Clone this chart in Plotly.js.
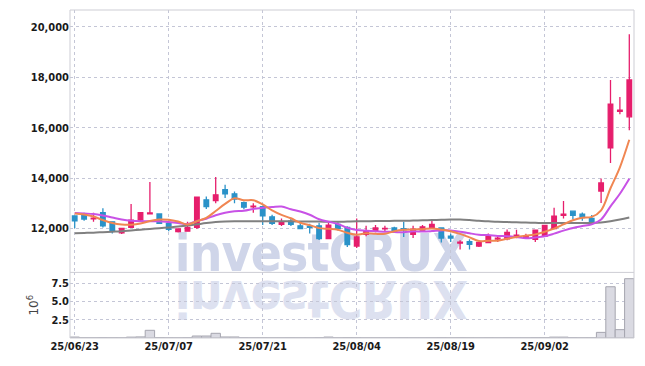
<!DOCTYPE html>
<html><head><meta charset="utf-8">
<script src="https://cdn.plot.ly/plotly-3.0.1.min.js"></script>
<style>
html,body{margin:0;padding:0;background:#fff;}
#wrap{position:relative;width:645px;height:366px;}
#wm{position:absolute;left:0;top:0;z-index:0;}
#chart{position:absolute;left:0;top:0;width:645px;height:366px;z-index:1;}
</style>
</head><body>
<div id="wrap">
<svg id="wm" width="645" height="366" xmlns="http://www.w3.org/2000/svg">
  <text x="321" y="271" text-anchor="middle" font-family="DejaVu Sans Condensed" font-weight="bold" font-size="51" letter-spacing="-0.8" fill="rgb(207,213,233)">investCRUX</text>
  <g transform="translate(0,552) scale(1,-1)">
    <text x="321" y="271" text-anchor="middle" font-family="DejaVu Sans Condensed" font-weight="bold" font-size="51" letter-spacing="-0.8" fill="rgb(221,225,240)">investCRUX</text>
  </g>
</svg>
<div id="chart"></div>
</div>
<script>
const dates = ['2025-06-23','2025-06-24','2025-06-25','2025-06-26','2025-06-27','2025-06-30',
'2025-07-01','2025-07-02','2025-07-03','2025-07-04','2025-07-07','2025-07-08','2025-07-09','2025-07-10','2025-07-11',
'2025-07-14','2025-07-15','2025-07-16','2025-07-17','2025-07-18','2025-07-21','2025-07-22','2025-07-23','2025-07-24','2025-07-25',
'2025-07-28','2025-07-29','2025-07-30','2025-07-31','2025-08-01','2025-08-04','2025-08-05','2025-08-06','2025-08-07','2025-08-08',
'2025-08-11','2025-08-12','2025-08-13','2025-08-14','2025-08-18','2025-08-19','2025-08-20','2025-08-21','2025-08-22',
'2025-08-25','2025-08-26','2025-08-27','2025-08-28','2025-08-29','2025-09-01','2025-09-02','2025-09-03','2025-09-04','2025-09-05',
'2025-09-08','2025-09-09','2025-09-10','2025-09-11','2025-09-12','2025-09-15'];

const open  = [12500,12570,12390,12630,12270,11830,12050,12340,12590,12580,
12210,11880,11900,12050,13140,13110,13540,13380,13030,12860,
12870,12470,12170,12300,12110,12100,12110,11610,12170,12050,
11310,11770,11900,11990,12030,12000,11770,11940,12030,12030,
11700,11430,11480,11310,11450,11590,11600,11650,11630,11580,
11690,12000,12530,12690,12570,12410,13490,15200,16650,16430];
const high  = [12520,12630,12630,12810,12290,12030,12980,12650,13850,12600,
12230,12010,12270,13260,13270,14050,13740,13470,13080,13010,
12920,12550,12400,12400,12230,12190,12230,12250,12250,12090,
12400,12110,12140,12110,12070,12270,12110,12140,12300,12050,
11800,11540,11580,11460,11810,11740,11970,11960,11800,11960,
12150,12830,13100,12700,12640,12540,13990,17890,17220,19700];
const low   = [12020,12310,12270,12050,11810,11790,12030,12270,12570,12180,
11900,11850,11880,11990,12780,13010,13210,13010,12770,12630,
12140,12140,12100,12100,11990,11810,11550,11590,11930,11270,
11230,11700,11860,11870,11830,11670,11630,11920,12000,11450,
11470,11170,11170,11270,11430,11470,11540,11620,11600,11470,
11670,11990,12400,12360,12310,12180,13020,14600,16530,15900];
const close = [12310,12380,12420,12110,11910,12010,12340,12630,12620,12210,
11970,11990,12050,13250,12870,13340,13380,13170,12850,12890,
12510,12210,12270,12170,12000,12050,11610,12140,12000,11370,
11670,11900,12030,12010,11870,11950,11980,12070,12170,11630,
11630,11460,11380,11450,11700,11620,11850,11740,11710,11940,
12130,12490,12570,12530,12440,12290,13810,16930,16690,17890];

const ma5  = [12600,12560,12480,12340,12226,12166,12158,12200,12302,12362,
12354,12284,12168,12294,12426,12700,12978,13202,13122,13126,
12960,12726,12546,12410,12232,12140,12020,11994,11960,11834,
11758,11816,11794,11796,11896,11952,11968,11976,12008,11960,
11896,11792,11654,11510,11524,11522,11600,11672,11724,11772,
11874,12002,12168,12332,12432,12464,12728,13600,14432,15522];
const ma10 = [12620,12600,12580,12520,12440,12360,12310,12290,12290,12295,
12261,12222,12185,12299,12395,12528,12632,12686,12709,12777,
12831,12853,12875,12767,12680,12551,12374,12271,12186,12034,
11950,11919,11895,11879,11866,11856,11893,11886,11903,11929,
11925,11881,11816,11760,11743,11710,11697,11664,11618,11649,
11699,11802,11921,12029,12103,12170,12366,12885,13383,13978];
const maLong = [11820,11830,11840,11860,11880,11900,11930,11960,11990,12020,
12050,12080,12120,12170,12220,12260,12280,12290,12290,12290,
12290,12290,12290,12290,12280,12280,12280,12270,12270,12280,
12290,12290,12300,12300,12310,12310,12320,12330,12340,12350,
12360,12360,12340,12310,12290,12270,12260,12250,12240,12230,
12220,12220,12220,12220,12220,12220,12240,12290,12360,12440];

const volumeMillions = [0.13,0.04,0.03,0.05,0.04,0.03,0.12,0.15,1.05,0.06,
0.04,0.03,0.05,0.27,0.27,0.64,0.14,0.14,0.05,0.04,
0.04,0.03,0.03,0.04,0.03,0.03,0.05,0.13,0.04,0.06,
0.05,0.03,0.03,0.02,0.03,0.04,0.03,0.03,0.04,0.05,
0.04,0.05,0.04,0.03,0.04,0.03,0.04,0.03,0.03,0.05,
0.06,0.12,0.12,0.05,0.04,0.04,0.77,7.0,1.14,8.1];

const tickDates  = ['2025-06-23','2025-07-07','2025-07-21','2025-08-04','2025-08-19','2025-09-02'];
const tickLabels = ['25/06/23','25/07/07','25/07/21','25/08/04','25/08/19','25/09/02'];
const priceTicks = [12000,14000,16000,18000,20000];
const volumeTicks = [2.5,5,7.5];

const pink = 'rgb(230,30,108)';
const blue = 'rgb(42,146,200)';
const gridColor = 'rgb(196,198,214)';
const fontFam = 'DejaVu Sans Condensed, DejaVu Sans, sans-serif';
const tickFont = {family:fontFam, size:11, color:'#1a1a1a', weight:'bold'};

const traces = [
 {type:'candlestick', x:dates, open:open, high:high, low:low, close:close,
  xaxis:'x', yaxis:'y', whiskerwidth:0,
  increasing:{line:{color:pink,width:1.3}, fillcolor:pink},
  decreasing:{line:{color:blue,width:1.3}, fillcolor:blue},
  hoverinfo:'skip'},
 {type:'scatter', mode:'lines', x:dates, y:maLong, xaxis:'x', yaxis:'y',
  line:{color:'rgb(128,128,128)', width:2, shape:'spline'}, hoverinfo:'skip'},
 {type:'scatter', mode:'lines', x:dates, y:ma10, xaxis:'x', yaxis:'y',
  line:{color:'rgb(200,82,230)', width:2, shape:'spline'}, hoverinfo:'skip'},
 {type:'scatter', mode:'lines', x:dates, y:ma5, xaxis:'x', yaxis:'y',
  line:{color:'rgb(240,134,82)', width:2, shape:'spline'}, hoverinfo:'skip'},
 {type:'bar', x:dates, y:volumeMillions, xaxis:'x', yaxis:'y2',
  marker:{color:'rgb(218,218,226)', line:{color:'rgb(165,165,175)', width:1}}, hoverinfo:'skip'}
];

const layout = {
 width:645, height:366,
 margin:{l:70, r:11, t:10, b:28},
 paper_bgcolor:'rgba(0,0,0,0)', plot_bgcolor:'rgba(0,0,0,0)',
 showlegend:false, bargap:0,
 xaxis:{type:'category', anchor:'y2', range:[-0.5,59.5], tickvals:tickDates, ticktext:tickLabels,
   showgrid:true, gridcolor:gridColor, griddash:'dot', gridwidth:1, zeroline:false, showline:false,
   ticks:'', tickfont:tickFont, rangeslider:{visible:false}},
 yaxis:{domain:[0.2,1], range:[10266,20663], tickvals:priceTicks, tickformat:',',
   showgrid:true, gridcolor:gridColor, griddash:'dot', gridwidth:1, zeroline:false, showline:false,
   ticks:'', tickfont:tickFont},
 yaxis2:{domain:[0,0.2], range:[0,8.96], tickvals:volumeTicks, tickformat:'.1f',
   showgrid:true, gridcolor:gridColor, griddash:'dot', gridwidth:1, zeroline:false, showline:false,
   ticks:'', tickfont:tickFont,
   title:{text:'10<sup>6</sup>', font:{family:'DejaVu Sans, sans-serif', size:12, color:'#444'}, standoff:10}},
 shapes:[
  {type:'rect', xref:'paper', yref:'paper', x0:0, x1:1, y0:0, y1:1, line:{color:'rgb(205,205,212)', width:1}},
  {type:'line', xref:'paper', yref:'paper', x0:0, x1:1, y0:0.2, y1:0.2, line:{color:'rgb(205,205,212)', width:1}}
 ]
};

Plotly.newPlot('chart', traces, layout, {staticPlot:true, displayModeBar:false});
</script>
</body></html>
